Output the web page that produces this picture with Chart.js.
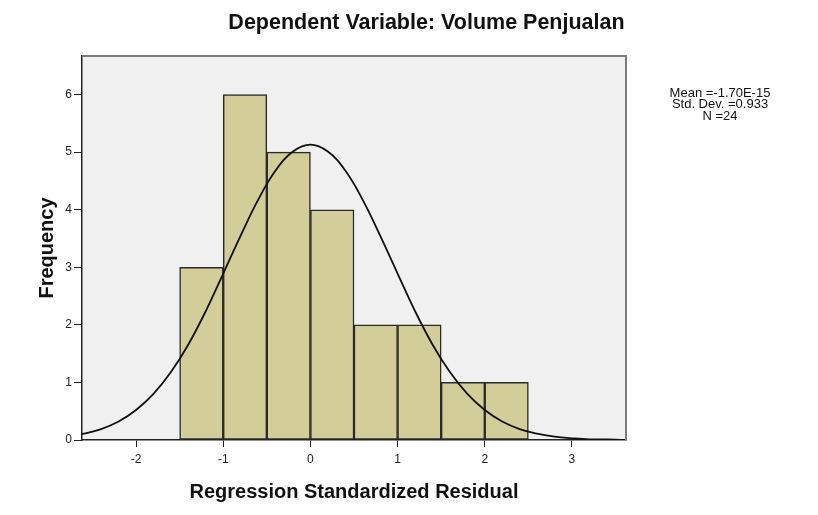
<!DOCTYPE html>
<html>
<head>
<meta charset="utf-8">
<title>Histogram - Regression Standardized Residual</title>
<script src="https://cdn.jsdelivr.net/npm/chart.js@4.4.1/dist/chart.umd.min.js"></script>
<style>
    html, body { margin: 0; padding: 0; background: #fff; }
    #wrap { width: 818px; height: 515px; }
</style>
</head>
<body>
<div id="wrap"><canvas id="histChart"></canvas></div>
<script>
// Histogram bins (bin width 0.5) and counts
const binCenters = [-1.25, -0.75, -0.25, 0.25, 0.75, 1.25, 1.75, 2.25];
const binCounts = [3, 6, 5, 4, 2, 2, 1, 1];

// Normal curve
const curveX = [-2.8, -2.6, -2.4, -2.2, -2.0, -1.8, -1.6, -1.4, -1.2, -1.0, -0.8, -0.6, -0.4, -0.2, 0,
    0.2, 0.4, 0.6, 0.8, 1.0, 1.2, 1.4, 1.6, 1.8, 2.0, 2.2, 2.4, 2.6, 2.8, 3.0, 3.2, 3.4, 3.6, 3.8];
const curveY = [0.06, 0.11, 0.19, 0.32, 0.52, 0.80, 1.18, 1.66, 2.24, 2.89, 3.55, 4.17, 4.68, 5.01, 5.13,
    5.01, 4.68, 4.17, 3.55, 2.89, 2.24, 1.66, 1.18, 0.80, 0.52, 0.32, 0.19, 0.11, 0.06, 0.03, 0.01, 0.01, 0.00, 0.00];

// Axis ticks and ranges
const xTicks = [-2, -1, 0, 1, 2, 3];
const yTicks = [0, 1, 2, 3, 4, 5, 6];
const xRange = [-2.62, 3.62];
const yRange = [0, 6.67];

const statsLines = ['Mean =-1.70E-15', 'Std. Dev. =0.933', 'N =24'];

const FONT = '"Liberation Sans", Arial, sans-serif';

// Grey plot area, frame and the stats text on the right
const plotFrame = {
    id: 'plotFrame',
    beforeDraw(chart) {
        const { ctx, chartArea: a } = chart;
        ctx.save();
        ctx.fillStyle = '#f0f0f0';
        ctx.fillRect(a.left, a.top, a.right - a.left, a.bottom - a.top);
        ctx.restore();
    },
    afterDraw(chart) {
        const { ctx, chartArea: a } = chart;
        ctx.save();
        ctx.strokeStyle = '#7a7a7a';
        ctx.lineWidth = 2;
        ctx.beginPath();
        ctx.moveTo(a.left, a.top);
        ctx.lineTo(a.right, a.top);
        ctx.lineTo(a.right, a.bottom);
        ctx.stroke();

        ctx.fillStyle = '#111';
        ctx.font = '13px ' + FONT;
        ctx.textAlign = 'center';
        ctx.textBaseline = 'middle';
        statsLines.forEach((line, i) => {
            ctx.fillText(line, 720, 93 + i * 11.5);
        });
        ctx.restore();
    }
};

const ctx = document.getElementById('histChart').getContext('2d');

new Chart(ctx, {
    type: 'bar',
    data: {
        datasets: [
            {
                type: 'line',
                data: curveX.map((x, i) => ({ x: x, y: curveY[i] })),
                borderColor: '#111',
                borderWidth: 1.8,
                pointRadius: 0,
                tension: 0.4,
                fill: false,
                order: 1
            },
            {
                type: 'bar',
                data: binCenters.map((x, i) => ({ x: x, y: binCounts[i] })),
                backgroundColor: '#d3ce99',
                borderColor: '#2a2a2a',
                borderWidth: 1.5,
                borderSkipped: false,
                barPercentage: 1,
                categoryPercentage: 1,
                order: 2
            }
        ]
    },
    options: {
        responsive: true,
        maintainAspectRatio: false,
        animation: false,
        layout: { padding: { left: 35, right: 0, top: 0, bottom: 0 } },
        plugins: {
            legend: { display: false },
            tooltip: { enabled: false },
            title: {
                display: true,
                text: 'Dependent Variable: Volume Penjualan',
                color: '#111',
                font: { family: FONT, size: 21.5, weight: 'bold' },
                padding: { top: 10.1, bottom: 20.1 }
            }
        },
        scales: {
            x: {
                type: 'linear',
                min: xRange[0],
                max: xRange[1],
                offset: false,
                afterBuildTicks: (scale) => { scale.ticks = xTicks.map(v => ({ value: v })); },
                afterFit: (scale) => { scale.height = 75; },
                grid: { drawOnChartArea: false, offset: false, tickLength: 7, color: '#222' },
                border: { color: '#222', width: 1.5 },
                ticks: { color: '#222', padding: 5, font: { family: FONT, size: 12 } },
                title: {
                    display: true,
                    text: 'Regression Standardized Residual',
                    color: '#111',
                    font: { family: FONT, size: 20, weight: 'bold' },
                    padding: { top: 0, bottom: 11 }
                }
            },
            y: {
                type: 'linear',
                min: yRange[0],
                max: yRange[1],
                afterBuildTicks: (scale) => { scale.ticks = yTicks.map(v => ({ value: v })); },
                afterFit: (scale) => { scale.width = 47; },
                grid: { drawOnChartArea: false, tickLength: 8, color: '#222' },
                border: { color: '#222', width: 1.5 },
                ticks: { color: '#222', padding: 2, font: { family: FONT, size: 12 } },
                title: {
                    display: true,
                    text: 'Frequency',
                    color: '#111',
                    font: { family: FONT, size: 20, weight: 'bold' },
                    padding: { top: 0, bottom: 0 }
                }
            },
            side: {
                type: 'linear',
                position: 'right',
                display: true,
                ticks: { display: false },
                grid: { display: false },
                border: { display: false },
                afterFit: (scale) => { scale.width = 192; }
            }
        }
    },
    plugins: [plotFrame]
});
</script>
</body>
</html>
